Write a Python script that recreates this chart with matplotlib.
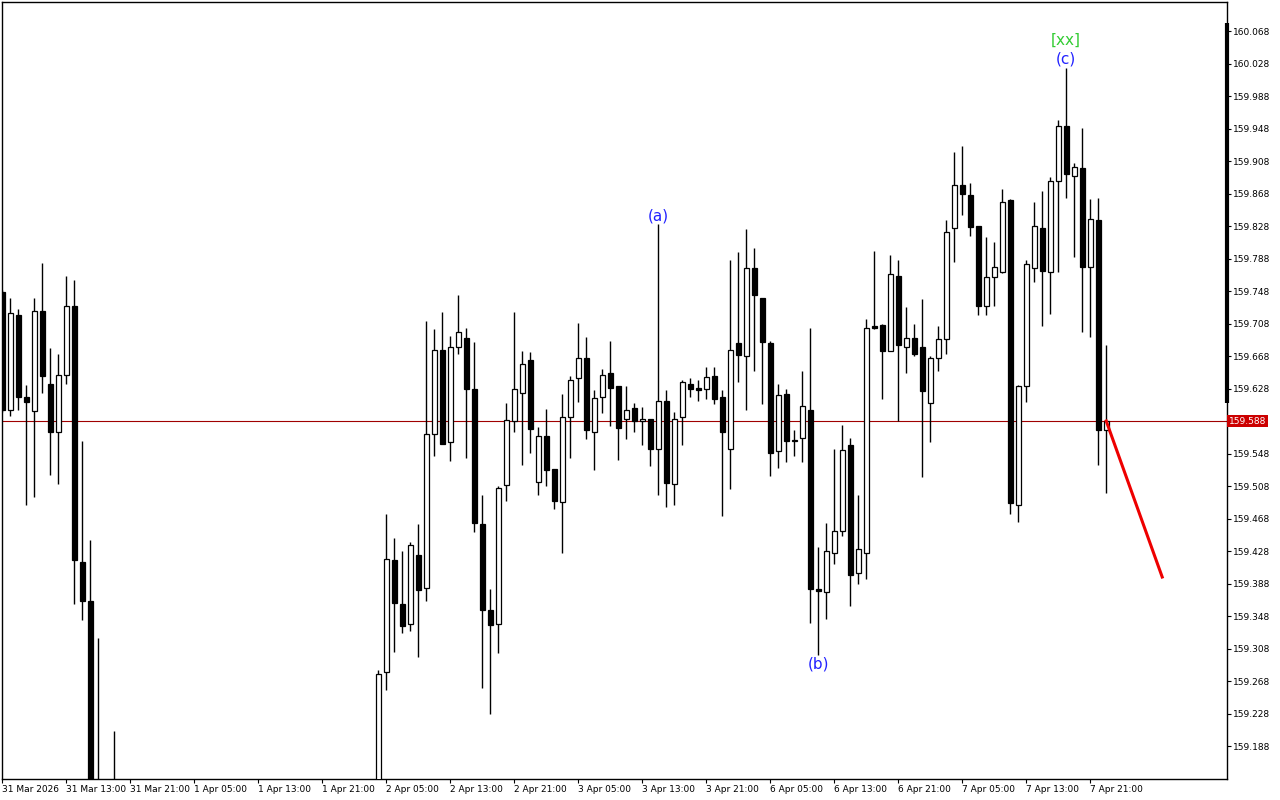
import matplotlib
matplotlib.use("Agg")
import matplotlib.pyplot as plt
from matplotlib.patches import Rectangle

# hourly candles, bar 0 = 31 Mar 05:00
opens = [159.747, 159.602, 159.719, 159.618, 159.600, 159.723, 159.634, 159.574, 159.645, 159.730,
         159.414, 159.366, 159.095, 159.120, 159.075, 159.110, 159.055, 159.030, 159.060, 159.045,
         159.020, 158.990, 159.025, 159.050, 159.035, 159.015, 159.030, 159.060, 159.080, 159.065,
         159.045, 159.055, 159.070, 159.090, 159.075, 159.050, 159.065, 159.095, 159.080, 159.060,
         159.070, 159.100, 159.090, 159.105, 159.095, 159.110, 159.100, 159.120, 159.279, 159.417,
         159.363, 159.338, 159.423, 159.382, 159.572, 159.675, 159.562, 159.679, 159.690, 159.627,
         159.461, 159.356, 159.338, 159.509, 159.588, 159.623, 159.663, 159.513, 159.569, 159.529,
         159.488, 159.593, 159.641, 159.666, 159.575, 159.617, 159.647, 159.631, 159.590, 159.604,
         159.588, 159.590, 159.553, 159.613, 159.511, 159.593, 159.634, 159.629, 159.627, 159.644,
         159.617, 159.554, 159.684, 159.668, 159.776, 159.739, 159.684, 159.551, 159.621, 159.563,
         159.567, 159.601, 159.381, 159.378, 159.426, 159.453, 159.558, 159.401, 159.426, 159.705,
         159.706, 159.674, 159.767, 159.679, 159.690, 159.679, 159.610, 159.666, 159.689, 159.825,
         159.878, 159.866, 159.828, 159.729, 159.765, 159.772, 159.860, 159.485, 159.631, 159.776,
         159.826, 159.772, 159.883, 159.951, 159.890, 159.900, 159.778, 159.836, 159.577]
highs = [159.749, 159.740, 159.726, 159.632, 159.739, 159.783, 159.678, 159.671, 159.767, 159.761,
         159.564, 159.442, 159.321, 159.140, 159.207, 159.135, 159.090, 159.070, 159.100, 159.080,
         159.055, 159.040, 159.070, 159.085, 159.060, 159.045, 159.075, 159.095, 159.110, 159.090,
         159.070, 159.085, 159.100, 159.120, 159.095, 159.080, 159.105, 159.125, 159.100, 159.085,
         159.110, 159.130, 159.115, 159.135, 159.125, 159.138, 159.130, 159.282, 159.474, 159.444,
         159.428, 159.439, 159.461, 159.711, 159.701, 159.722, 159.693, 159.743, 159.703, 159.685,
         159.497, 159.381, 159.508, 159.610, 159.722, 159.674, 159.673, 159.581, 159.603, 159.529,
         159.621, 159.644, 159.709, 159.691, 159.626, 159.652, 159.687, 159.631, 159.631, 159.610,
         159.605, 159.590, 159.830, 159.626, 159.599, 159.638, 159.641, 159.639, 159.655, 159.654,
         159.626, 159.786, 159.796, 159.824, 159.801, 159.739, 159.687, 159.634, 159.627, 159.577,
         159.650, 159.703, 159.433, 159.463, 159.554, 159.583, 159.567, 159.497, 159.714, 159.797,
         159.707, 159.792, 159.786, 159.728, 159.707, 159.738, 159.668, 159.705, 159.836, 159.919,
         159.926, 159.881, 159.828, 159.814, 159.808, 159.874, 159.861, 159.632, 159.786, 159.858,
         159.871, 159.888, 159.958, 160.023, 159.905, 159.949, 159.861, 159.863, 159.682]
lows = [159.599, 159.594, 159.602, 159.485, 159.494, 159.622, 159.521, 159.510, 159.634, 159.363,
        159.343, 159.080, 159.070, 159.060, 159.050, 159.040, 159.010, 158.990, 159.030, 159.000,
        158.975, 158.960, 159.010, 159.020, 159.000, 158.980, 159.015, 159.040, 159.050, 159.030,
        159.015, 159.035, 159.050, 159.060, 159.040, 159.025, 159.055, 159.070, 159.045, 159.030,
        159.060, 159.080, 159.065, 159.085, 159.075, 159.090, 159.085, 159.110, 159.257, 159.304,
        159.327, 159.330, 159.298, 159.367, 159.545, 159.560, 159.539, 159.671, 159.542, 159.451,
        159.259, 159.227, 159.303, 159.490, 159.575, 159.534, 159.549, 159.497, 159.508, 159.480,
        159.425, 159.543, 159.611, 159.566, 159.528, 159.598, 159.582, 159.540, 159.566, 159.575,
        159.559, 159.533, 159.497, 159.482, 159.485, 159.558, 159.618, 159.613, 159.615, 159.609,
        159.471, 159.504, 159.636, 159.601, 159.650, 159.609, 159.520, 159.530, 159.538, 159.545,
        159.537, 159.340, 159.300, 159.344, 159.412, 159.447, 159.360, 159.388, 159.394, 159.701,
        159.615, 159.674, 159.588, 159.647, 159.668, 159.519, 159.562, 159.650, 159.671, 159.784,
        159.841, 159.816, 159.718, 159.719, 159.730, 159.770, 159.474, 159.464, 159.611, 159.759,
        159.705, 159.720, 159.772, 159.862, 159.790, 159.698, 159.692, 159.534, 159.500]
closes = [159.602, 159.721, 159.618, 159.611, 159.723, 159.643, 159.574, 159.645, 159.730, 159.417,
          159.367, 159.095, 159.120, 159.075, 159.110, 159.055, 159.030, 159.060, 159.045, 159.020,
          158.990, 159.025, 159.050, 159.035, 159.015, 159.030, 159.060, 159.080, 159.065, 159.045,
          159.055, 159.070, 159.090, 159.075, 159.050, 159.065, 159.095, 159.080, 159.060, 159.070,
          159.100, 159.090, 159.105, 159.095, 159.110, 159.100, 159.120, 159.277, 159.418, 159.364,
          159.336, 159.435, 159.380, 159.572, 159.676, 159.560, 159.679, 159.698, 159.627, 159.462,
          159.356, 159.337, 159.505, 159.589, 159.628, 159.658, 159.578, 159.569, 159.528, 159.489,
          159.593, 159.639, 159.666, 159.577, 159.616, 159.645, 159.629, 159.579, 159.602, 159.588,
          159.590, 159.553, 159.613, 159.512, 159.590, 159.636, 159.628, 159.626, 159.642, 159.615,
          159.575, 159.676, 159.669, 159.776, 159.743, 159.685, 159.549, 159.620, 159.564, 159.565,
          159.606, 159.381, 159.379, 159.428, 159.453, 159.552, 159.399, 159.430, 159.703, 159.703,
          159.674, 159.769, 159.681, 159.690, 159.671, 159.625, 159.666, 159.689, 159.821, 159.879,
          159.867, 159.827, 159.729, 159.765, 159.777, 159.858, 159.487, 159.631, 159.781, 159.828,
          159.773, 159.883, 159.951, 159.892, 159.901, 159.777, 159.837, 159.577, 159.588]

tick_bars = [0, 8, 16, 24, 32, 40, 48, 56, 64, 72, 80, 88, 96, 104, 112, 120, 128, 136]
tick_texts = ["31 Mar 2026", "31 Mar 13:00", "31 Mar 21:00", "1 Apr 05:00", "1 Apr 13:00",
              "1 Apr 21:00", "2 Apr 05:00", "2 Apr 13:00", "2 Apr 21:00", "3 Apr 05:00",
              "3 Apr 13:00", "3 Apr 21:00", "6 Apr 05:00", "6 Apr 13:00", "6 Apr 21:00",
              "7 Apr 05:00", "7 Apr 13:00", "7 Apr 21:00"]
price_ticks = [160.068, 160.028, 159.988, 159.948, 159.908, 159.868, 159.828, 159.788, 159.748,
               159.708, 159.668, 159.628, 159.548, 159.508, 159.468, 159.428, 159.388, 159.348,
               159.308, 159.268, 159.228, 159.188]
last_price = 159.588

# wave labels: (bar, text, colour, above?)
waves = [(82, "(a)", True), (102, "(b)", False), (133, "(c)", True)]
forecast_bars = [138, 145]
forecast_prices = [159.588, 159.396]

fig = plt.figure(figsize=(12.8, 8), dpi=100)
ax = fig.add_axes([2 / 1280, 21 / 800, 1225 / 1280, 777 / 800])

w = 0.58
for i in range(len(opens)):
    o, h, l, c = opens[i], highs[i], lows[i], closes[i]
    ax.vlines(i, l, h, color="black", lw=1.0, zorder=2)
    bull = c >= o
    lo, hi = min(o, c), max(o, c)
    ax.add_patch(Rectangle((i - w / 2, lo), w, max(hi - lo, 0.0008),
                           facecolor="white" if bull else "black",
                           edgecolor="black", lw=0.9, zorder=3))

ax.axhline(last_price, color="#a00000", lw=0.8, zorder=1)
ax.plot(forecast_bars, forecast_prices, color="#ee0000", lw=2.2, zorder=4)

for b, txt, above in waves:
    if above:
        ax.annotate(txt, (b, highs[b]), xytext=(0, 1), textcoords="offset pixels",
                    ha="center", va="bottom", color="#2222ff", fontsize=11)
    else:
        ax.annotate(txt, (b, lows[b]), xytext=(0, -1), textcoords="offset pixels",
                    ha="center", va="top", color="#2222ff", fontsize=11)
ax.annotate("[xx]", (133, highs[133]), xytext=(0, 20), textcoords="offset pixels",
            ha="center", va="bottom", color="#33cc33", fontsize=11)

ax.set_xlim(-0.05, 153.1)
ax.set_ylim(159.1474, 160.1037)

ax.yaxis.tick_right()
ax.set_yticks(price_ticks)
ax.set_yticklabels([f"{p:.3f}" for p in price_ticks])
ax.tick_params(axis="y", direction="out", length=3, width=0.8, pad=1.5, labelsize=6.5)
ax.set_xticks(tick_bars)
ax.set_xticklabels(tick_texts, ha="left")
ax.tick_params(axis="x", direction="out", length=3, width=0.8, pad=1.5, labelsize=6.5)
for lab in ax.get_xticklabels():
    lab.set_x(lab.get_position()[0])

for s in ax.spines.values():
    s.set_color("black")
    s.set_linewidth(1.0)

# thick bar on price scale
ax.plot([1.0, 1.0], [160.078, 159.610], transform=ax.get_yaxis_transform(),
        color="black", lw=3, clip_on=False, solid_capstyle="butt")

ax.text(1.0015, last_price, "159.588", transform=ax.get_yaxis_transform(),
        ha="left", va="center", fontsize=6.5, color="white",
        bbox=dict(boxstyle="square,pad=0.2", facecolor="#cc0000", edgecolor="none"))

fig.savefig("out.png", dpi=100, facecolor="white")
